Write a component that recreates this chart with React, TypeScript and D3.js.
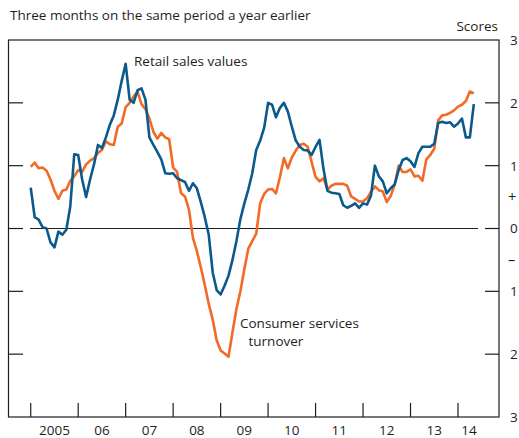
import React from "react";
import * as d3 from "d3";

const startYear = 2005;

const retailSales = [
  0.65, 0.18, 0.14, 0.02, 0.0, -0.22, -0.3, -0.05, -0.1, -0.02, 0.35, 1.18,
  1.17, 0.78, 0.5, 0.78, 1.02, 1.33, 1.28, 1.45, 1.65, 1.8, 2.05, 2.35,
  2.62, 2.05, 2.0, 2.2, 2.23, 2.05, 1.45, 1.33, 1.22, 1.1, 0.88, 0.87,
  0.88, 0.8, 0.77, 0.74, 0.6, 0.72, 0.64, 0.42, 0.18, -0.1, -0.7, -0.98,
  -1.05, -0.91, -0.75, -0.5, -0.2, 0.15, 0.4, 0.62, 0.88, 1.25, 1.4, 1.6,
  2.0, 1.97, 1.77, 1.92, 2.0, 1.86, 1.62, 1.4, 1.3, 1.25, 1.24, 1.17,
  1.3, 1.41, 0.95, 0.6, 0.57, 0.56, 0.55, 0.37, 0.33, 0.36, 0.4, 0.33,
  0.4, 0.38, 0.52, 1.0, 0.83, 0.75, 0.56, 0.64, 0.7, 0.93, 1.09, 1.12,
  1.07, 0.98, 1.2, 1.3, 1.3, 1.3, 1.35, 1.68, 1.7, 1.68, 1.69, 1.62,
  1.67, 1.75, 1.45, 1.45, 1.98,
];

const consumerServices = [
  0.98, 1.05, 0.96, 0.97, 0.92, 0.78, 0.6, 0.47, 0.6, 0.62, 0.76, 0.83,
  0.93, 0.9, 1.02, 1.08, 1.12, 1.2, 1.25, 1.39, 1.34, 1.33, 1.62, 1.67,
  1.93, 2.0, 2.1, 2.18, 1.98, 1.9, 1.75, 1.54, 1.43, 1.52, 1.45, 1.42,
  0.97, 0.9, 0.56, 0.51, 0.3, -0.15, -0.36, -0.62, -0.9, -1.2, -1.45, -1.78,
  -1.94, -1.99, -2.04, -1.65, -1.28, -1.0, -0.65, -0.32, -0.2, -0.08, 0.4, 0.55,
  0.62, 0.63, 0.56, 0.82, 1.12, 0.96, 1.13, 1.24, 1.33, 1.35, 1.3, 1.06,
  0.82, 0.75, 0.8, 0.62, 0.68, 0.71, 0.71, 0.71, 0.68, 0.51, 0.47, 0.43,
  0.43, 0.48, 0.58, 0.67, 0.61, 0.59, 0.42, 0.52, 0.7, 1.0, 0.9, 0.9,
  0.94, 0.83, 0.84, 0.76, 1.1, 1.17, 1.27, 1.72, 1.8, 1.81, 1.84, 1.88,
  1.94, 1.97, 2.03, 2.18, 2.15,
];

const yTickValues = [3, 2, 1, 0, -1, -2, -3];
const yTickLabels = ["3", "2", "1", "0", "1", "2", "3"];
const signValues = [0.5, -0.5];
const signLabels = ["+", "\u2013"];
const yearTicks = [2005, 2006, 2007, 2008, 2009, 2010, 2011, 2012, 2013, 2014];
const yearLabels = ["2005", "06", "07", "08", "09", "10", "11", "12", "13", "14"];

const title = "Three months on the same period a year earlier";
const unitLabel = "Scores";

const W = 519;
const H = 438;
const FONT = "'Open Sans', 'Noto Sans', sans-serif";
const FS = 13.5;
const BLUE = "#0b5a8d";
const ORANGE = "#f26a25";
const INK = "#1e1e1e";

export default function App() {
  const x = d3.scaleLinear().domain([2004.532, 2014.864]).range([8.5, 499]);
  const y = d3.scaleLinear().domain([-3, 3]).range([417, 40]);

  const line = d3
    .line<number>()
    .x((_, i) => x(startYear + i / 12))
    .y((d) => y(d));

  const [x0, x1] = x.range();
  const [yb, yt] = y.range();

  return (
    <svg
      width={W}
      height={H}
      style={{ position: "absolute", left: 0, top: 0, background: "#fff" }}
      fontFamily={FONT}
    >
      <text x={10} y={19.5} fontSize={FS} fill={INK}>
        {title}
      </text>
      <text x={498} y={31} fontSize={FS} fill={INK} textAnchor="end">
        {unitLabel}
      </text>

      {/* frame */}
      <rect
        x={x0}
        y={yt}
        width={x1 - x0}
        height={yb - yt}
        fill="none"
        stroke={INK}
        strokeWidth={1.2}
      />

      {/* y ticks */}
      {yTickValues
        .filter((v) => Math.abs(v) < 3)
        .map((v) => (
          <g key={"yt" + v}>
            <line x1={x0} x2={x0 + 14.5} y1={y(v)} y2={y(v)} stroke={INK} strokeWidth={1.2} />
            <line x1={x1 - 14} x2={x1} y1={y(v)} y2={y(v)} stroke={INK} strokeWidth={1.2} />
          </g>
        ))}
      {/* zero line */}
      <line x1={30} x2={478} y1={y(0)} y2={y(0)} stroke={INK} strokeWidth={1.2} />

      {/* y labels */}
      {yTickValues.map((v, i) => (
        <text key={"yl" + i} x={510} y={y(v)} dy="0.36em" fontSize={FS} fill={INK}>
          {yTickLabels[i]}
        </text>
      ))}
      {signValues.map((v, i) => (
        <text key={"sl" + i} x={508} y={y(v)} dy="0.36em" fontSize={FS + 1} fill={INK}>
          {signLabels[i]}
        </text>
      ))}

      {/* x ticks */}
      {yearTicks.map((yr) => (
        <line
          key={"xt" + yr}
          x1={x(yr)}
          x2={x(yr)}
          y1={yb - 14}
          y2={yb}
          stroke={INK}
          strokeWidth={1.2}
        />
      ))}
      {yearTicks.map((yr, i) => (
        <text
          key={"xl" + yr}
          x={yr === 2014 ? x(yr) + 11 : x(yr + 0.5)}
          y={435}
          fontSize={FS}
          fill={INK}
          textAnchor="middle"
        >
          {yearLabels[i]}
        </text>
      ))}

      {/* series */}
      <path d={line(consumerServices) || ""} fill="none" stroke={ORANGE} strokeWidth={2.6} strokeLinejoin="round" />
      <path d={line(retailSales) || ""} fill="none" stroke={BLUE} strokeWidth={2.6} strokeLinejoin="round" />

      {/* annotations */}
      <text x={134} y={66} fontSize={FS} fill={INK}>
        Retail sales values
      </text>
      <text x={240} y={328} fontSize={FS} fill={INK}>
        Consumer services
      </text>
      <text x={248.5} y={346} fontSize={FS} fill={INK}>
        turnover
      </text>
    </svg>
  );
}
